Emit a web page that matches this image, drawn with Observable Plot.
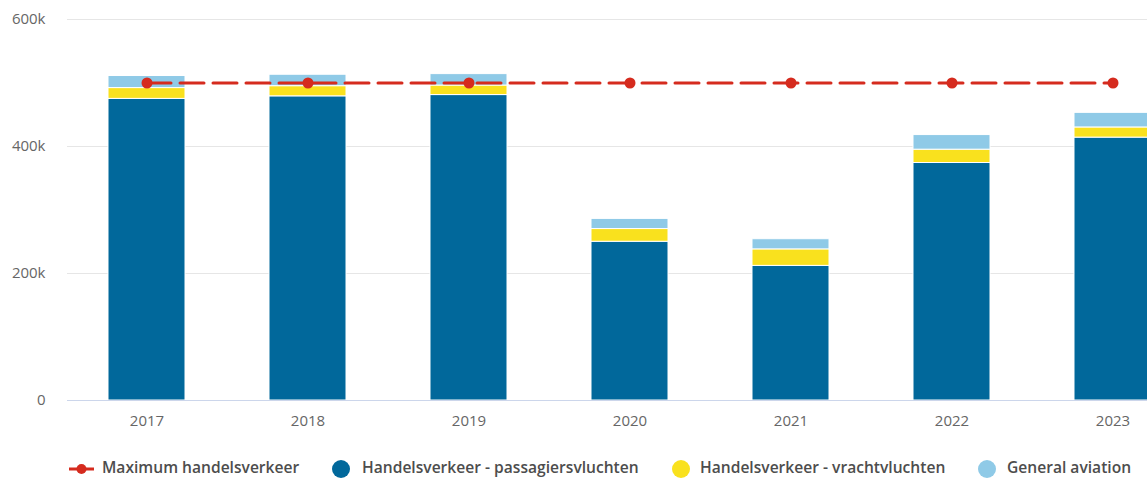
<!DOCTYPE html>
<html>
<head>
<meta charset="utf-8">
<script src="https://cdn.jsdelivr.net/npm/d3@7"></script>
<script src="https://cdn.jsdelivr.net/npm/@observablehq/plot@0.6"></script>
<style>
  html, body { margin: 0; padding: 0; background: #fff; overflow: hidden; }
  #wrap { position: relative; width: 1147px; height: 478px; }
  #legend { position: absolute; left: 0; top: 0; width: 1147px; height: 478px;
            font-family: "Open Sans", sans-serif; font-size: 15.6px; font-weight: 600; color: #4d4d4d; }
  .sym { position: absolute; }
  .txt { position: absolute; top: 456px; line-height: normal; white-space: nowrap; }
</style>
</head>
<body>
<div id="wrap">
  <div id="chart"></div>
  <div id="legend"></div>
</div>
<script>
// Vliegbewegingen per jaar (x 1000)
const years = ["2017", "2018", "2019", "2020", "2021", "2022", "2023"];
const passagiers = [475, 479, 481, 250, 212, 374, 414];
const vracht = [17, 16, 15, 20, 26, 21, 16];
const generalAviation = [19, 18, 18, 16, 16, 23, 23];
const maximum = [500, 500, 500, 500, 500, 500, 500];

const seriesNames = [
  "Handelsverkeer - passagiersvluchten",
  "Handelsverkeer - vrachtvluchten",
  "General aviation"
];
const seriesColors = ["#01689b", "#f9e11e", "#8fcae7"];
const maxName = "Maximum handelsverkeer";
const maxColor = "#d52b1e";
const yTicks = [0, 200000, 400000, 600000];

const stacked = [];
years.forEach((yr, i) => {
  [passagiers, vracht, generalAviation].forEach((arr, s) => {
    stacked.push({year: yr, series: seriesNames[s], value: arr[i] * 1000});
  });
});
const maxRows = years.map((yr, i) => ({year: yr, value: maximum[i] * 1000}));

const step = 161;
const chart = Plot.plot({
  width: 1147,
  height: 440,
  marginLeft: 67,
  marginRight: 0,
  marginTop: 19,
  marginBottom: 40,
  style: {fontFamily: "'Open Sans', sans-serif", fontSize: "15px", color: "#666", background: "transparent"},
  x: {domain: years, range: [66.5, 66.5 + step * years.length], paddingInner: 0.52, paddingOuter: 0.26, label: null},
  y: {domain: [0, 600000], label: null},
  color: {domain: seriesNames, range: seriesColors},
  marks: [
    Plot.gridY(yTicks, {stroke: "#e6e6e6", strokeOpacity: 1}),
    Plot.axisY(yTicks, {tickSize: 0, tickPadding: 22, label: null,
      tickFormat: d => d === 0 ? "0" : (d / 1000) + "k", fill: "#666"}),
    Plot.axisX({tickSize: 0, tickPadding: 15, label: null, fill: "#666"}),
    Plot.barY(stacked, {x: "year", y: "value", fill: "series", stroke: "#fff", strokeWidth: 1}),
    Plot.ruleY([0], {stroke: "#ccd6eb", strokeWidth: 1}),
    Plot.line(maxRows, {x: "year", y: "value", stroke: maxColor, strokeWidth: 3, strokeDasharray: "24,9"}),
    Plot.dot(maxRows, {x: "year", y: "value", r: 5.5, fill: maxColor, stroke: "none"})
  ]
});
document.getElementById("chart").appendChild(chart);

// Legend below the chart
const legend = document.getElementById("legend");
const items = [
  {name: maxName, color: maxColor, line: true, symLeft: 69, textLeft: 102},
  {name: seriesNames[0], color: seriesColors[0], symLeft: 332, textLeft: 362},
  {name: seriesNames[1], color: seriesColors[1], symLeft: 672, textLeft: 700},
  {name: seriesNames[2], color: seriesColors[2], symLeft: 978, textLeft: 1007}
];
items.forEach(it => {
  const sym = document.createElement("div");
  sym.className = "sym";
  sym.style.left = it.symLeft + "px";
  if (it.line) {
    sym.style.top = "463px";
    sym.innerHTML = `<svg width="25" height="12" style="display:block"><line x1="0" y1="6" x2="25" y2="6" stroke="${it.color}" stroke-width="3"/><circle cx="12.5" cy="6" r="5" fill="${it.color}"/></svg>`;
  } else {
    sym.style.top = "460px";
    sym.innerHTML = `<svg width="18" height="18" style="display:block"><circle cx="9" cy="9" r="9" fill="${it.color}"/></svg>`;
  }
  legend.appendChild(sym);
  const txt = document.createElement("div");
  txt.className = "txt";
  txt.style.left = it.textLeft + "px";
  txt.textContent = it.name;
  legend.appendChild(txt);
});
</script>
</body>
</html>
